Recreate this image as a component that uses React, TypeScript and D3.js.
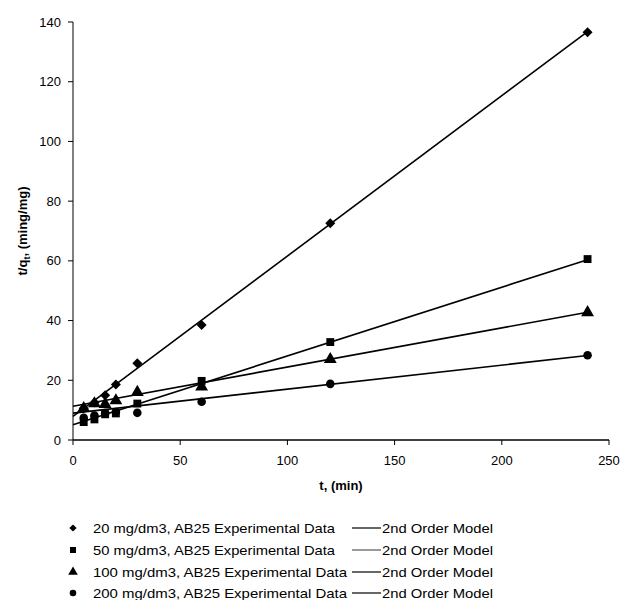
import React from "react";
import * as d3 from "d3";

const times = [5, 10, 15, 20, 30, 60, 120, 240];
const seriesNames = [
  "20 mg/dm3, AB25 Experimental Data",
  "50 mg/dm3, AB25 Experimental Data",
  "100 mg/dm3, AB25 Experimental Data",
  "200 mg/dm3, AB25 Experimental Data",
];
const modelName = "2nd Order Model";
const data20 = [10.6, 12.6, 15.0, 18.6, 25.7, 38.5, 72.6, 136.6];
const data50 = [6.0, 6.9, 8.6, 8.9, 12.2, 19.8, 32.8, 60.6];
const data100 = [10.6, 12.2, 12.0, 13.2, 16.0, 17.8, 27.0, 42.7];
const data200 = [7.4, 8.2, 9.0, 9.4, 9.1, 12.8, 18.8, 28.4];
// model lines read at t = 0 and t = 240
const modelT = [0, 240];
const model20 = [7.9, 136.8];
const model50 = [5.1, 60.4];
const model100 = [11.3, 42.8];
const model200 = [9.0, 28.3];
const xTicks = [0, 50, 100, 150, 200, 250];
const yTicks = [0, 20, 40, 60, 80, 100, 120, 140];

const FONT = "'Liberation Sans', Arial, Helvetica, sans-serif";

export default function App() {
  const x = d3.scaleLinear().domain([0, 250]).range([73, 609]);
  const y = d3.scaleLinear().domain([0, 140]).range([440, 22]);
  const seriesData = [data20, data50, data100, data200];
  const models = [model20, model50, model100, model200];
  const symbols = [
    d3.symbol().type(d3.symbolSquare).size(50)(),
    d3.symbol().type(d3.symbolSquare).size(62)(),
    d3.symbol().type(d3.symbolTriangle).size(72)(),
    d3.symbol().type(d3.symbolCircle).size(58)(),
  ];
  const legendSymbols = [
    d3.symbol().type(d3.symbolSquare).size(26)(),
    d3.symbol().type(d3.symbolSquare).size(36)(),
    d3.symbol().type(d3.symbolTriangle).size(40)(),
    d3.symbol().type(d3.symbolCircle).size(34)(),
  ];
  const rot = [45, 0, 0, 0];
  const line = d3
    .line<number>()
    .x((_, i) => x(modelT[i]))
    .y((d) => y(d));
  const legendY = [528, 550, 572, 593];
  const nameLen = [242, 242, 254, 254];

  return (
    <svg
      width={622}
      height={600}
      style={{ position: "absolute", left: 0, top: 0, background: "#fff" }}
      fontFamily={FONT}
    >
      <rect width={622} height={600} fill="#fff" />
      {/* axes */}
      <line x1={x(0)} x2={x(0)} y1={y(0)} y2={y(140)} stroke="#000" strokeWidth={1} />
      <line x1={x(0)} x2={x(250)} y1={y(0)} y2={y(0)} stroke="#000" strokeWidth={1.3} />
      {yTicks.map((t) => (
        <g key={"y" + t}>
          <line x1={x(0) - 5} x2={x(0)} y1={y(t)} y2={y(t)} stroke="#000" />
          <text x={61} y={y(t) + 4.5} fontSize={13} textAnchor="end" fill="#000">
            {t}
          </text>
        </g>
      ))}
      {xTicks.map((t) => (
        <g key={"x" + t}>
          <line x1={x(t)} x2={x(t)} y1={y(0)} y2={y(0) + 5} stroke="#000" />
          <text x={x(t)} y={465} fontSize={13} textAnchor="middle" fill="#000">
            {t}
          </text>
        </g>
      ))}
      <text x={341} y={490} fontSize={13} fontWeight="bold" textAnchor="middle">
        t, (min)
      </text>
      <text
        transform="translate(27,231) rotate(-90)"
        fontSize={13}
        fontWeight="bold"
        textAnchor="middle"
      >
        t/q
        <tspan fontSize={9} dy={3}>t</tspan>
        <tspan dy={-3}>, (ming/mg)</tspan>
      </text>
      {/* model lines */}
      {models.map((m, i) => (
        <path key={"m" + i} d={line(m) || ""} fill="none" stroke="#000" strokeWidth={1.6} />
      ))}
      {/* points */}
      {seriesData.map((s, i) =>
        s.map((v, j) => (
          <path
            key={"p" + i + "-" + j}
            d={symbols[i] || ""}
            transform={`translate(${x(times[j])},${y(v)}) rotate(${rot[i]})`}
            fill="#000"
          />
        ))
      )}
      {/* legend */}
      {seriesNames.map((n, i) => (
        <g key={"l" + i}>
          <path
            d={legendSymbols[i] || ""}
            transform={`translate(73,${legendY[i]}) rotate(${rot[i]})`}
            fill="#000"
          />
          <text
            x={93}
            y={legendY[i] + 4.5}
            fontSize={13.5}
            fill="#000"
            textLength={nameLen[i]}
            lengthAdjust="spacingAndGlyphs"
          >
            {n}
          </text>
          <line
            x1={352}
            x2={381}
            y1={legendY[i]}
            y2={legendY[i]}
            stroke="#000"
            strokeWidth={i === 1 ? 0.8 : 1.2}
          />
          <text
            x={382}
            y={legendY[i] + 4.5}
            fontSize={13.5}
            fill="#000"
            textLength={111}
            lengthAdjust="spacingAndGlyphs"
          >
            {modelName}
          </text>
        </g>
      ))}
    </svg>
  );
}
